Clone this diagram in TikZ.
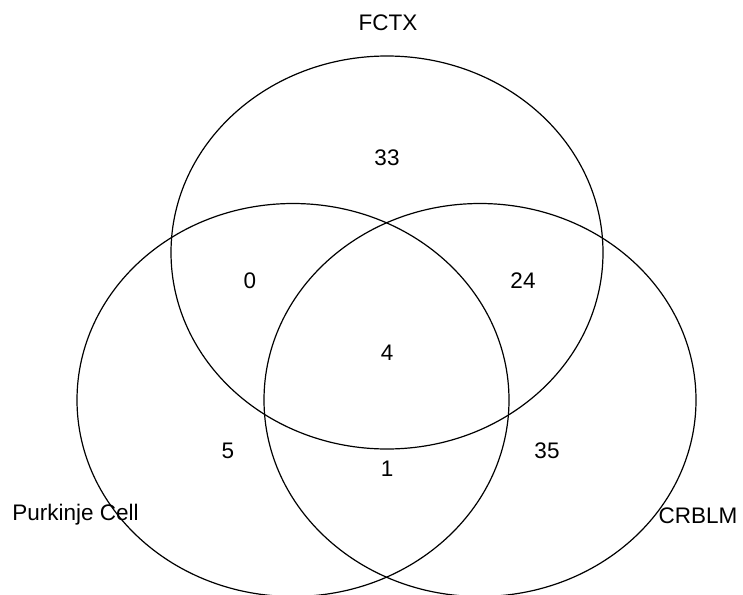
\documentclass[tikz,border=0pt]{standalone}
\usepackage{fontspec}
\setmainfont{Liberation Sans}
\usepackage{tikz}

\begin{document}
\begin{tikzpicture}[x=1pt, y=-1pt, line width=1.2pt,
  setlabel/.style={anchor=base, inner sep=0pt, font=\fontsize{22.5}{27}\selectfont},
  countlabel/.style={anchor=base, inner sep=0pt, font=\fontsize{22.5}{27}\selectfont}]
\useasboundingbox (0,0) rectangle (743,594);
\clip (0,0) rectangle (743,594);

\coordinate (fctx) at (387,252.5);
\coordinate (purk) at (293,400);
\coordinate (crblm) at (480,400);

\draw (fctx) ellipse [x radius=216, y radius=196.5];
\draw (purk) ellipse [x radius=216, y radius=196.5];
\draw (crblm) ellipse [x radius=216, y radius=196.5];

\node[setlabel] (fctxlab) at (388,31) {FCTX};
\node[setlabel] (purklab) at (75.5,520) {Purkinje Cell};
\node[setlabel] (crblmlab) at (698,523) {CRBLM};

\node[countlabel] (n33) at (387,165) {33};
\node[countlabel] (n0) at (250,288) {0};
\node[countlabel] (n24) at (523,288) {24};
\node[countlabel] (n4) at (387,360) {4};
\node[countlabel] (n5) at (228,458) {5};
\node[countlabel] (n35) at (547,458) {35};
\node[countlabel] (n1) at (387,476) {1};
\end{tikzpicture}
\end{document}
